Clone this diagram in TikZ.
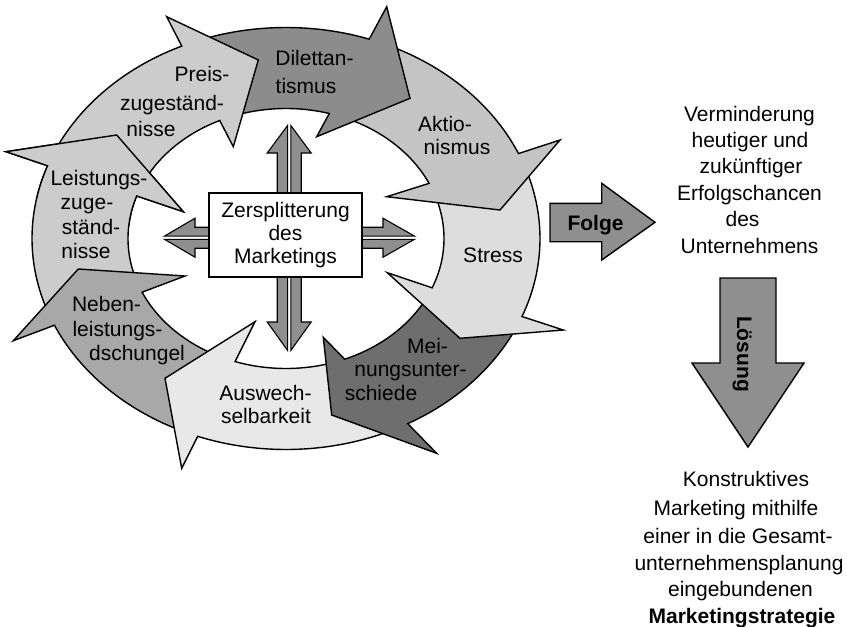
\documentclass[tikz,border=0pt]{standalone}
\usepackage{fontspec}
\setmainfont{Liberation Sans}
\definecolor{cPreis}{HTML}{CCCCCC}
\definecolor{cDil}{HTML}{8C8C8C}
\definecolor{cAkt}{HTML}{C4C4C4}
\definecolor{cStr}{HTML}{DDDDDD}
\definecolor{cMei}{HTML}{6E6E6E}
\definecolor{cAus}{HTML}{E8E8E8}
\definecolor{cNeb}{HTML}{A8A8A8}
\definecolor{cLei}{HTML}{CCCCCC}
\definecolor{cArr}{HTML}{8F8F8F}
\tikzset{
  ring/.style={draw=black, line width=1.4pt, line join=miter, miter limit=6},
  xarrow/.style={draw=black, fill=cArr, line width=1.1pt, line join=miter},
  bigarrow/.style={draw=black, fill=cArr, line width=1.4pt, line join=miter},
  lbl/.style={anchor=base, inner sep=0pt, font=\fontsize{21}{25}\selectfont},
  boxstyle/.style={draw=black, fill=white, line width=1.4pt, inner sep=0pt,
    minimum width=153pt, minimum height=84pt, align=center,
    font=\fontsize{21}{22.9}\selectfont},
}
\newcommand{\ringarrow}[8]{%
  \filldraw[ring, fill=#1]
    plot[domain=#2:#4, samples=50] ({286+254*cos(\x)},{238.5+211*sin(\x)})
    -- #6 -- #7 -- #8
    -- plot[domain=#5:#3, samples=50] ({286+158*cos(\x)},{238.5+130*sin(\x)})
    -- cycle;}
\newcommand{\leistungsarrow}{\ringarrow{cLei}{157.2}{157.1}{200.16}{199.1}{(6,151.7)}{(116.7,135)}{(183.3,211.7)}}
\begin{document}
\begin{tikzpicture}[x=1pt,y=-1pt]
\useasboundingbox (0,0) rectangle (847,627);

% ring arrows, drawn in reverse order so each head lies over the next tail
\leistungsarrow
\ringarrow{cNeb}{111.85}{110.3}{155.73}{155.6}{(13.3,340.7)}{(78.3,269)}{(185,276)}
\ringarrow{cAus}{62.85}{69.7}{110.35}{108.8}{(181.7,468.3)}{(165,378.3)}{(255,321.7)}
\ringarrow{cMei}{23.2}{23.8}{61.35}{68.2}{(436.7,453.3)}{(331.7,415)}{(323.3,337.3)}
\ringarrow{cStr}{-22.2}{-23.6}{21.7}{22.3}{(563.3,330)}{(460,338.3)}{(387.3,272.7)}
\ringarrow{cAkt}{-69.4}{-72.6}{-23.74}{-25.1}{(560,140)}{(500,210)}{(386.7,196.7)}
\ringarrow{cDil}{-112.7}{-113.3}{-70.87}{-74.1}{(386.7,6.7)}{(410,98.3)}{(316.7,136.7)}
\ringarrow{cPreis}{-158.3}{-159.4}{-114.23}{-114.8}{(166.7,16.7)}{(258.3,60)}{(233.3,146.7)}
\begin{scope}
  \clip (-10,140) -- (122,125) -- (200,218) -- (150,232) -- (-10,185) -- cycle;
  \leistungsarrow
\end{scope}

% ring labels
\node[lbl] (p1) at (202,81) {Preis-};
\node[lbl] (p2) at (172,110.5) {zugeständ-};
\node[lbl] (p3) at (151,136.5) {nisse};
\node[lbl] (d1) at (314.5,65) {Dilettan-};
\node[lbl] (d2) at (306,93) {tismus};
\node[lbl] (a1) at (445,131.7) {Aktio-};
\node[lbl] (a2) at (457,154.5) {nismus};
\node[lbl] (s1) at (493,262.7) {Stress};
\node[lbl] (m1) at (427.5,353) {Mei-};
\node[lbl] (m2) at (410.5,376.7) {nungsunter-};
\node[lbl] (m3) at (381,400) {schiede};
\node[lbl] (w1) at (265.5,400) {Auswech-};
\node[lbl] (w2) at (266,423) {selbarkeit};
\node[lbl] (n1) at (106.5,311.7) {Neben-};
\node[lbl] (n2) at (117.5,336.5) {leistungs-};
\node[lbl] (n3) at (137,360) {dschungel};
\node[lbl] (l1) at (99,185.5) {Leistungs-};
\node[lbl] (l2) at (87,209) {zuge-};
\node[lbl] (l3) at (91,234) {ständ-};
\node[lbl] (l4) at (86,258) {nisse};

% cross arrows (each split into two halves)
% up
\filldraw[xarrow] (287.6,125.5) -- (267.2,153) -- (277.2,153) -- (277.2,235) -- (287.6,235) -- cycle;
\filldraw[xarrow] (290.8,125.5) -- (311.2,153) -- (301.2,153) -- (301.2,235) -- (290.8,235) -- cycle;
% down
\filldraw[xarrow] (287.6,350.5) -- (267.2,322) -- (277.2,322) -- (277.2,235) -- (287.6,235) -- cycle;
\filldraw[xarrow] (290.8,350.5) -- (311.2,322) -- (301.2,322) -- (301.2,235) -- (290.8,235) -- cycle;
% left
\filldraw[xarrow] (164.5,236.1) -- (195,218.2) -- (195,227.2) -- (285,227.2) -- (285,236.1) -- cycle;
\filldraw[xarrow] (164.5,239.3) -- (195,257.2) -- (195,248.2) -- (285,248.2) -- (285,239.3) -- cycle;
% right
\filldraw[xarrow] (414.5,236.1) -- (383,218.2) -- (383,227.2) -- (285,227.2) -- (285,236.1) -- cycle;
\filldraw[xarrow] (414.5,239.3) -- (383,257.2) -- (383,248.2) -- (285,248.2) -- (285,239.3) -- cycle;

\node[boxstyle] (box) at (285.5,235) {Zersplitterung\\des\\Marketings};

% Folge arrow
\filldraw[bigarrow] (550,203.3) -- (601.7,203.3) -- (601.7,183.3) -- (655,222.3)
  -- (601.7,260) -- (601.7,241.7) -- (550,241.7) -- cycle;
\node[lbl, font=\fontsize{21}{25}\selectfont\bfseries] (folge) at (595.5,230) {Folge};

% Verminderung text
\node[lbl] (v1) at (749.5,121.7) {Verminderung};
\node[lbl] (v2) at (750,147.3) {heutiger und};
\node[lbl] (v3) at (751,173.3) {zukünftiger};
\node[lbl] (v4) at (749.5,200) {Erfolgschancen};
\node[lbl] (v5) at (742.5,226.7) {des};
\node[lbl] (v6) at (749.5,253.3) {Unternehmens};

% Loesung arrow
\filldraw[bigarrow] (720,278) -- (776,278) -- (776,363) -- (804,363) -- (748,447)
  -- (692,363) -- (720,363) -- cycle;
\node[lbl, rotate=-90, font=\fontsize{21}{25}\selectfont\bfseries] (loesung) at (737,354) {Lösung};

% Konstruktives text
\node[lbl] (k1) at (746,486.7) {Konstruktives};
\node[lbl] (k2) at (736,515) {Marketing mithilfe};
\node[lbl] (k3) at (738,543.3) {einer in die Gesamt-};
\node[lbl] (k4) at (739,570) {unternehmensplanung};
\node[lbl] (k5) at (740.5,596.7) {eingebundenen};
\node[lbl, font=\fontsize{21}{25}\selectfont\bfseries] (k6) at (742,623) {Marketingstrategie};
\end{tikzpicture}
\end{document}
